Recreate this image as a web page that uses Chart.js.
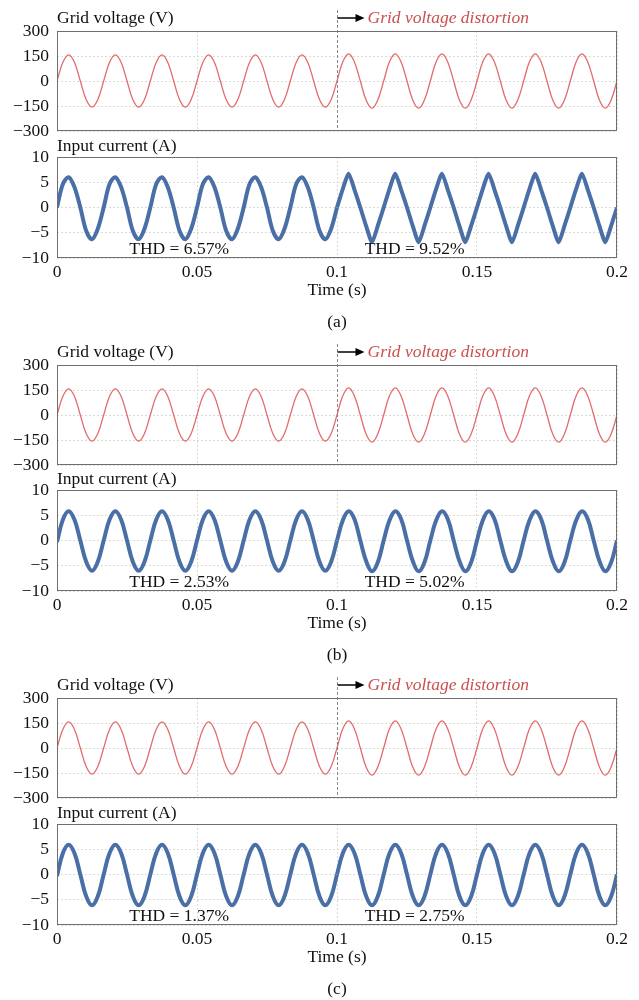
<!DOCTYPE html>
<html>
<head>
<meta charset="utf-8">
<script src="https://cdn.jsdelivr.net/npm/chart.js@4.4.1/dist/chart.umd.min.js"></script>
<style>
  body { margin: 0; background: #fff; }
  #wrap { position: relative; width: 639px; height: 1000px; overflow: hidden; }
  #wrap canvas { position: absolute; left: 0; }
</style>
</head>
<body>
<div id="wrap"></div>
<script>
// time samples, ms (eighth of a 60 Hz period)
const timeMs = [
  0, 2.08, 4.17, 6.25, 8.33, 10.42, 12.5, 14.58,
  16.67, 18.75, 20.83, 22.92, 25, 27.08, 29.17, 31.25,
  33.33, 35.42, 37.5, 39.58, 41.67, 43.75, 45.83, 47.92,
  50, 52.08, 54.17, 56.25, 58.33, 60.42, 62.5, 64.58,
  66.67, 68.75, 70.83, 72.92, 75, 77.08, 79.17, 81.25,
  83.33, 85.42, 87.5, 89.58, 91.67, 93.75, 95.83, 97.92,
  100, 102.08, 104.17, 106.25, 108.33, 110.42, 112.5, 114.58,
  116.67, 118.75, 120.83, 122.92, 125, 127.08, 129.17, 131.25,
  133.33, 135.42, 137.5, 139.58, 141.67, 143.75, 145.83, 147.92,
  150, 152.08, 154.17, 156.25, 158.33, 160.42, 162.5, 164.58,
  166.67, 168.75, 170.83, 172.92, 175, 177.08, 179.17, 181.25,
  183.33, 185.42, 187.5, 189.58, 191.67, 193.75, 195.83, 197.92,
  200
];

// grid voltage (V), same in all three cases
const gridVoltage = [
  0, 111, 157, 111, 0, -111, -157, -111,
  0, 111, 157, 111, 0, -111, -157, -111,
  0, 111, 157, 111, 0, -111, -157, -111,
  0, 111, 157, 111, 0, -111, -157, -111,
  0, 111, 157, 111, 0, -111, -157, -111,
  0, 111, 157, 111, 0, -111, -157, -111,
  0, 115, 163, 113, 0, -115, -163, -113,
  0, 115, 163, 113, 0, -115, -163, -113,
  0, 115, 163, 113, 0, -115, -163, -113,
  0, 115, 163, 113, 0, -115, -163, -113,
  0, 115, 163, 113, 0, -115, -163, -113,
  0, 115, 163, 113, 0, -115, -163, -113,
  0
];

// input current (A)
const currentA = [
  0, 4.6, 6.0, 4.0, 0, -4.6, -6.3, -4.2,
  0, 4.6, 6.0, 4.0, 0, -4.6, -6.3, -4.2,
  0, 4.6, 6.0, 4.0, 0, -4.6, -6.3, -4.2,
  0, 4.6, 6.0, 4.0, 0, -4.6, -6.3, -4.2,
  0, 4.6, 6.0, 4.0, 0, -4.6, -6.3, -4.2,
  0, 4.6, 6.0, 4.0, 0, -4.6, -6.3, -4.2,
  0, 3.7, 6.7, 3.5, 0, -3.7, -6.9, -3.6,
  0, 3.7, 6.7, 3.5, 0, -3.7, -6.9, -3.6,
  0, 3.7, 6.7, 3.5, 0, -3.7, -6.9, -3.6,
  0, 3.7, 6.7, 3.5, 0, -3.7, -6.9, -3.6,
  0, 3.7, 6.7, 3.5, 0, -3.7, -6.9, -3.6,
  0, 3.7, 6.7, 3.5, 0, -3.7, -6.9, -3.6,
  0
];
const currentB = [
  -0.3, 4.1, 5.8, 4.1, 0, -4.2, -6.0, -4.2,
  0, 4.1, 5.8, 4.1, 0, -4.2, -6.0, -4.2,
  0, 4.1, 5.8, 4.1, 0, -4.2, -6.0, -4.2,
  0, 4.1, 5.8, 4.1, 0, -4.2, -6.0, -4.2,
  0, 4.1, 5.8, 4.1, 0, -4.2, -6.0, -4.2,
  0, 4.1, 5.8, 4.1, 0, -4.2, -6.0, -4.2,
  0, 4.0, 5.8, 4.2, 0, -4.1, -6.1, -4.3,
  0, 4.0, 5.8, 4.2, 0, -4.1, -6.1, -4.3,
  0, 4.0, 5.8, 4.2, 0, -4.1, -6.1, -4.3,
  0, 4.0, 5.8, 4.2, 0, -4.1, -6.1, -4.3,
  0, 4.0, 5.8, 4.2, 0, -4.1, -6.1, -4.3,
  0, 4.0, 5.8, 4.2, 0, -4.1, -6.1, -4.3,
  0
];
const currentC = [
  -0.3, 4.2, 5.9, 4.2, 0, -4.3, -6.1, -4.3,
  0, 4.2, 5.9, 4.2, 0, -4.3, -6.1, -4.3,
  0, 4.2, 5.9, 4.2, 0, -4.3, -6.1, -4.3,
  0, 4.2, 5.9, 4.2, 0, -4.3, -6.1, -4.3,
  0, 4.2, 5.9, 4.2, 0, -4.3, -6.1, -4.3,
  0, 4.2, 5.9, 4.2, 0, -4.3, -6.1, -4.3,
  0, 4.2, 5.9, 4.2, 0, -4.3, -6.1, -4.3,
  0, 4.2, 5.9, 4.2, 0, -4.3, -6.1, -4.3,
  0, 4.2, 5.9, 4.2, 0, -4.3, -6.1, -4.3,
  0, 4.2, 5.9, 4.2, 0, -4.3, -6.1, -4.3,
  0, 4.2, 5.9, 4.2, 0, -4.3, -6.1, -4.3,
  0, 4.2, 5.9, 4.2, 0, -4.3, -6.1, -4.3,
  0
];

const timeTicks = [0, 0.05, 0.1, 0.15, 0.2];
const voltageTicks = [-300, -150, 0, 150, 300];
const currentTicks = [-10, -5, 0, 5, 10];
const distortionStart = 0.1;
const panelLabels = ['(a)', '(b)', '(c)'];
const thdBefore = ['THD = 6.57%', 'THD = 2.53%', 'THD = 1.37%'];
const thdAfter = ['THD = 9.52%', 'THD = 5.02%', 'THD = 2.75%'];
const thdPos = [[0.0436, -8.2], [0.1277, -8.2]];

// layout (box tops in page px)
const panelBoxes = [
  { v: 31, c: 157 },
  { v: 365, c: 490 },
  { v: 698, c: 824 }
];

const FONT = '"Liberation Serif", "Times New Roman", serif';
const FSIZE = 17.5;
const RED = '#e26b6d';
const BLUE = '#4a6fa7';
const GRID = '#dcdcd2';

Chart.defaults.font.family = FONT;
Chart.defaults.font.size = FSIZE;
Chart.defaults.color = '#111';

const wrap = document.getElementById('wrap');

function points(values, from, to) {
  const out = [];
  for (let i = from; i <= to; i++) out.push({ x: timeMs[i] / 1000, y: values[i] });
  return out;
}

function minus(v) {
  return String(v).replace('-', '\u2212');
}

const decorPlugin = {
  id: 'decor',
  afterDraw(chart, args, o) {
    const { ctx, chartArea: a, scales } = chart;
    const left = Math.round(a.left) + 0.5, top = Math.round(a.top) + 0.5;
    const right = Math.round(a.right) - 0.5, bottom = Math.round(a.bottom) - 0.5;
    ctx.save();
    ctx.font = FSIZE + 'px ' + FONT;
    ctx.fillStyle = '#111';
    ctx.textBaseline = 'middle';
    ctx.textAlign = 'left';
    ctx.fillText(o.title, a.left, a.top - o.titleGap);

    if (o.kind === 'voltage') {
      const x0 = Math.round(scales.x.getPixelForValue(distortionStart)) + 0.5;
      ctx.strokeStyle = '#8a8a8a';
      ctx.lineWidth = 1;
      ctx.setLineDash([3, 2]);
      ctx.beginPath();
      ctx.moveTo(x0, a.top - 21);
      ctx.lineTo(x0, a.bottom);
      ctx.stroke();
      ctx.setLineDash([]);
      const ay = a.top - 13;
      ctx.strokeStyle = '#000';
      ctx.lineWidth = 1.5;
      ctx.beginPath();
      ctx.moveTo(x0, ay);
      ctx.lineTo(x0 + 20, ay);
      ctx.stroke();
      ctx.fillStyle = '#000';
      ctx.beginPath();
      ctx.moveTo(x0 + 27, ay);
      ctx.lineTo(x0 + 18, ay - 4);
      ctx.lineTo(x0 + 18, ay + 4);
      ctx.closePath();
      ctx.fill();
      ctx.fillStyle = '#c9504f';
      ctx.font = 'italic ' + FSIZE + 'px ' + FONT;
      ctx.fillText('Grid voltage distortion', x0 + 30, ay);
    } else {
      ctx.textAlign = 'center';
      ctx.fillText(o.thd[0], scales.x.getPixelForValue(thdPos[0][0]), scales.y.getPixelForValue(thdPos[0][1]));
      ctx.fillText(o.thd[1], scales.x.getPixelForValue(thdPos[1][0]), scales.y.getPixelForValue(thdPos[1][1]));
      ctx.fillText(o.label, scales.x.getPixelForValue(distortionStart), a.bottom + 64);
    }

    ctx.strokeStyle = '#6f6f6f';
    ctx.lineWidth = 1;
    ctx.strokeRect(left, top, right - left, bottom - top);
    ctx.restore();
  }
};

function makeChart(pageTop, height, padBottom, datasets, yTicks, kind, decor) {
  const canvas = document.createElement('canvas');
  canvas.width = 639;
  canvas.height = height;
  canvas.style.top = pageTop + 'px';
  wrap.appendChild(canvas);
  const isCurrent = kind === 'current';
  return new Chart(canvas, {
    type: 'line',
    data: { datasets },
    options: {
      responsive: false,
      animation: false,
      layout: { padding: { top: 31, bottom: padBottom, left: 0, right: 22 } },
      elements: { point: { radius: 0 } },
      plugins: {
        legend: { display: false },
        tooltip: { enabled: false },
        decor: Object.assign({ kind }, decor)
      },
      scales: {
        x: {
          type: 'linear',
          min: 0,
          max: 0.2,
          afterBuildTicks: s => { s.ticks = timeTicks.map(v => ({ value: v })); },
          afterFit: s => { s.height = isCurrent ? 50 : 0; },
          ticks: { display: isCurrent, padding: 4, maxRotation: 0, autoSkip: false, callback: v => String(v) },
          grid: {
            drawTicks: false,
            color: c => (!isCurrent && c.tick && c.tick.value === distortionStart) ? 'rgba(0,0,0,0)' : GRID
          },
          border: { display: false, dash: [2, 2] },
          title: { display: isCurrent, text: 'Time (s)', padding: { top: 0, bottom: 7 } }
        },
        y: {
          min: yTicks[0],
          max: yTicks[yTicks.length - 1],
          afterBuildTicks: s => { s.ticks = yTicks.map(v => ({ value: v })); },
          afterFit: s => { s.width = 57; },
          ticks: { padding: 8, autoSkip: false, callback: v => minus(v) },
          grid: { drawTicks: false, color: GRID },
          border: { display: false, dash: [2, 2] }
        }
      }
    },
    plugins: [decorPlugin]
  });
}

const currents = [currentA, currentB, currentC];
const afterTension = [0.2, 0.4, 0.4];
const beforeTension = [0.33, 0.4, 0.4];

panelBoxes.forEach((box, i) => {
  makeChart(box.v - 31, 151, 20, [
    { data: points(gridVoltage, 0, 96), borderColor: RED, borderWidth: 1.3, tension: 0.4 }
  ], voltageTicks, 'voltage', { title: 'Grid voltage (V)', titleGap: 13 });

  makeChart(box.c - 31, 232, 50, [
    { data: points(currents[i], 0, 48), borderColor: BLUE, borderWidth: 4, tension: beforeTension[i] },
    { data: points(currents[i], 48, 96), borderColor: BLUE, borderWidth: 4, tension: afterTension[i] }
  ], currentTicks, 'current', { title: 'Input current (A)', titleGap: 11, thd: [thdBefore[i], thdAfter[i]], label: panelLabels[i] });
});
</script>
</body>
</html>
